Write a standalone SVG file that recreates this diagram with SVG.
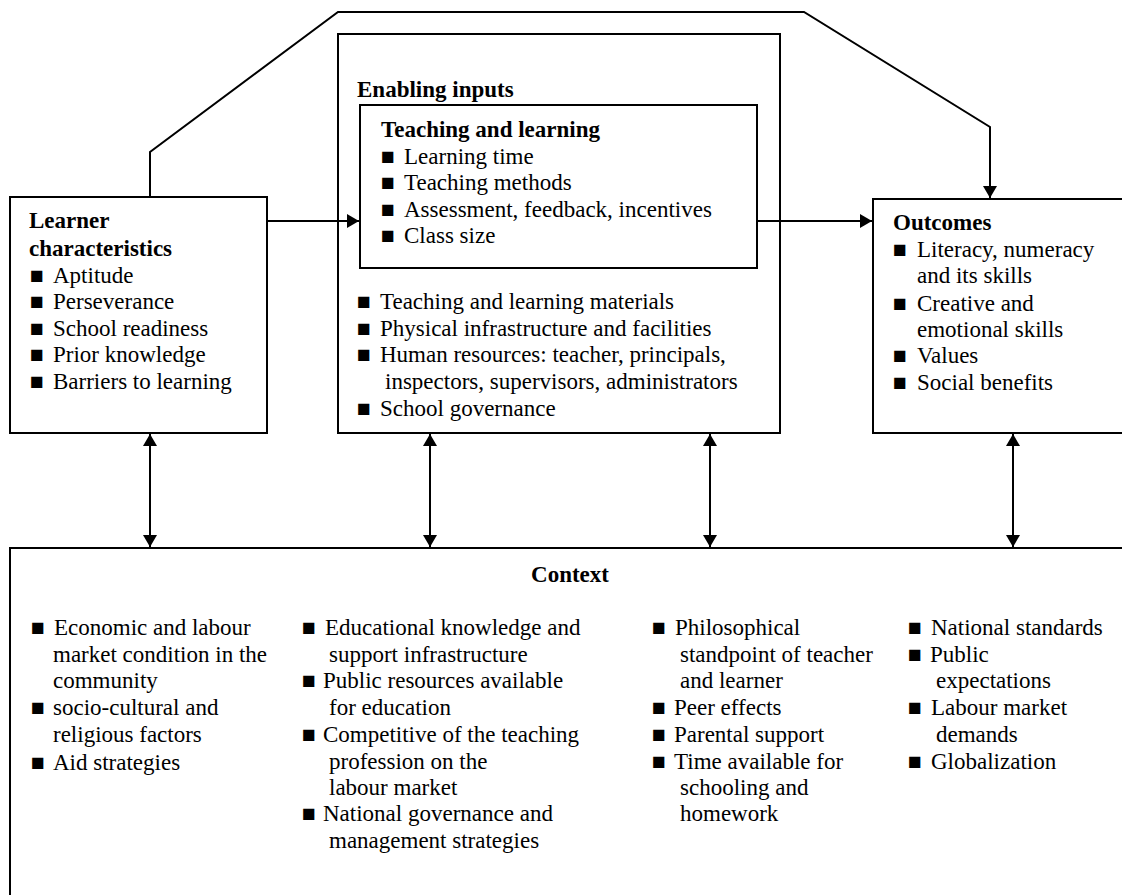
<svg xmlns="http://www.w3.org/2000/svg" width="1122" height="895" viewBox="0 0 1122 895">
<style>
.box{fill:none;stroke:#000;stroke-width:2}
.ln{fill:none;stroke:#000;stroke-width:2}
text{font-family:"Liberation Serif","Times New Roman",serif;font-size:23px;fill:#000}
.b{font-weight:bold}
</style>
<defs>
<marker id="ah" markerUnits="userSpaceOnUse" markerWidth="14" markerHeight="14" refX="12" refY="7" orient="auto-start-reverse" viewBox="0 0 12 14">
<path d="M0,0 L12,7 L0,14 z" fill="#000"/>
</marker>
</defs>
<rect width="1122" height="895" fill="#fff"/>

<g id="learner">
<rect class="box" x="10" y="197" width="257" height="236"/>
<text class="b" x="29" y="228">Learner</text>
<text class="b" x="29" y="256">characteristics</text>
<text x="30" y="283">■ <tspan x="53">Aptitude</tspan></text>
<text x="30" y="309">■ <tspan x="53">Perseverance</tspan></text>
<text x="30" y="336">■ <tspan x="53">School readiness</tspan></text>
<text x="30" y="362">■ <tspan x="53">Prior knowledge</tspan></text>
<text x="30" y="389">■ <tspan x="53">Barriers to learning</tspan></text>
</g>

<g id="enabling">
<rect class="box" x="338" y="34" width="442" height="399"/>
<text class="b" x="357" y="97">Enabling inputs</text>
<text x="357" y="309">■ <tspan x="380">Teaching and learning materials</tspan></text>
<text x="357" y="336">■ <tspan x="380">Physical infrastructure and facilities</tspan></text>
<text x="357" y="362">■ <tspan x="380">Human resources: teacher, principals,</tspan></text>
<text x="385" y="389">inspectors, supervisors, administrators</text>
<text x="357" y="416">■ <tspan x="380">School governance</tspan></text>
</g>

<g id="teaching">
<rect class="box" x="360" y="105" width="397" height="163"/>
<text class="b" x="381" y="137">Teaching and learning</text>
<text x="381" y="164">■ <tspan x="404">Learning time</tspan></text>
<text x="381" y="190">■ <tspan x="404">Teaching methods</tspan></text>
<text x="381" y="217">■ <tspan x="404">Assessment, feedback, incentives</tspan></text>
<text x="381" y="243">■ <tspan x="404">Class size</tspan></text>
</g>

<g id="outcomes">
<rect class="box" x="873" y="199" width="270" height="234"/>
<text class="b" x="893" y="230">Outcomes</text>
<text x="893" y="257">■ <tspan x="917">Literacy, numeracy</tspan></text>
<text x="917" y="283">and its skills</text>
<text x="893" y="311">■ <tspan x="917">Creative and</tspan></text>
<text x="917" y="337">emotional skills</text>
<text x="893" y="363">■ <tspan x="917">Values</tspan></text>
<text x="893" y="390">■ <tspan x="917">Social benefits</tspan></text>
</g>

<g id="context">
<rect class="box" x="10" y="548" width="1140" height="400"/>
<text class="b" x="570" y="582" text-anchor="middle">Context</text>
<text x="31" y="635">■ <tspan x="54">Economic and labour</tspan></text>
<text x="53" y="662">market condition in the</text>
<text x="53" y="688">community</text>
<text x="31" y="715">■ <tspan x="53">socio-cultural and</tspan></text>
<text x="53" y="742">religious factors</text>
<text x="31" y="770">■ <tspan x="53">Aid strategies</tspan></text>

<text x="302" y="635">■ <tspan x="325">Educational knowledge and</tspan></text>
<text x="329" y="662">support infrastructure</text>
<text x="302" y="688">■ <tspan x="323">Public resources available</tspan></text>
<text x="329" y="715">for education</text>
<text x="302" y="742">■ <tspan x="323">Competitive of the teaching</tspan></text>
<text x="329" y="769">profession on the</text>
<text x="329" y="795">labour market</text>
<text x="302" y="821">■ <tspan x="323">National governance and</tspan></text>
<text x="329" y="848">management strategies</text>

<text x="652" y="635">■ <tspan x="675">Philosophical</tspan></text>
<text x="680" y="662">standpoint of teacher</text>
<text x="680" y="688">and learner</text>
<text x="652" y="715">■ <tspan x="674">Peer effects</tspan></text>
<text x="652" y="742">■ <tspan x="674">Parental support</tspan></text>
<text x="652" y="769">■ <tspan x="674">Time available for</tspan></text>
<text x="680" y="795">schooling and</text>
<text x="680" y="821">homework</text>

<text x="908" y="635">■ <tspan x="931">National standards</tspan></text>
<text x="908" y="662">■ <tspan x="930">Public</tspan></text>
<text x="936" y="688">expectations</text>
<text x="908" y="715">■ <tspan x="931">Labour market</tspan></text>
<text x="936" y="742">demands</text>
<text x="908" y="769">■ <tspan x="931">Globalization</tspan></text>
</g>

<g id="connectors">
<polyline class="ln" points="150,197 150,152 338,12 804,12 990,127 990,198" marker-end="url(#ah)"/>
<line class="ln" x1="267" y1="221" x2="359" y2="221" marker-end="url(#ah)"/>
<line class="ln" x1="757" y1="221" x2="872" y2="221" marker-end="url(#ah)"/>
<line class="ln" x1="150" y1="434" x2="150" y2="547" marker-start="url(#ah)" marker-end="url(#ah)"/>
<line class="ln" x1="430" y1="434" x2="430" y2="547" marker-start="url(#ah)" marker-end="url(#ah)"/>
<line class="ln" x1="710" y1="434" x2="710" y2="547" marker-start="url(#ah)" marker-end="url(#ah)"/>
<line class="ln" x1="1013" y1="434" x2="1013" y2="547" marker-start="url(#ah)" marker-end="url(#ah)"/>
</g>
</svg>
